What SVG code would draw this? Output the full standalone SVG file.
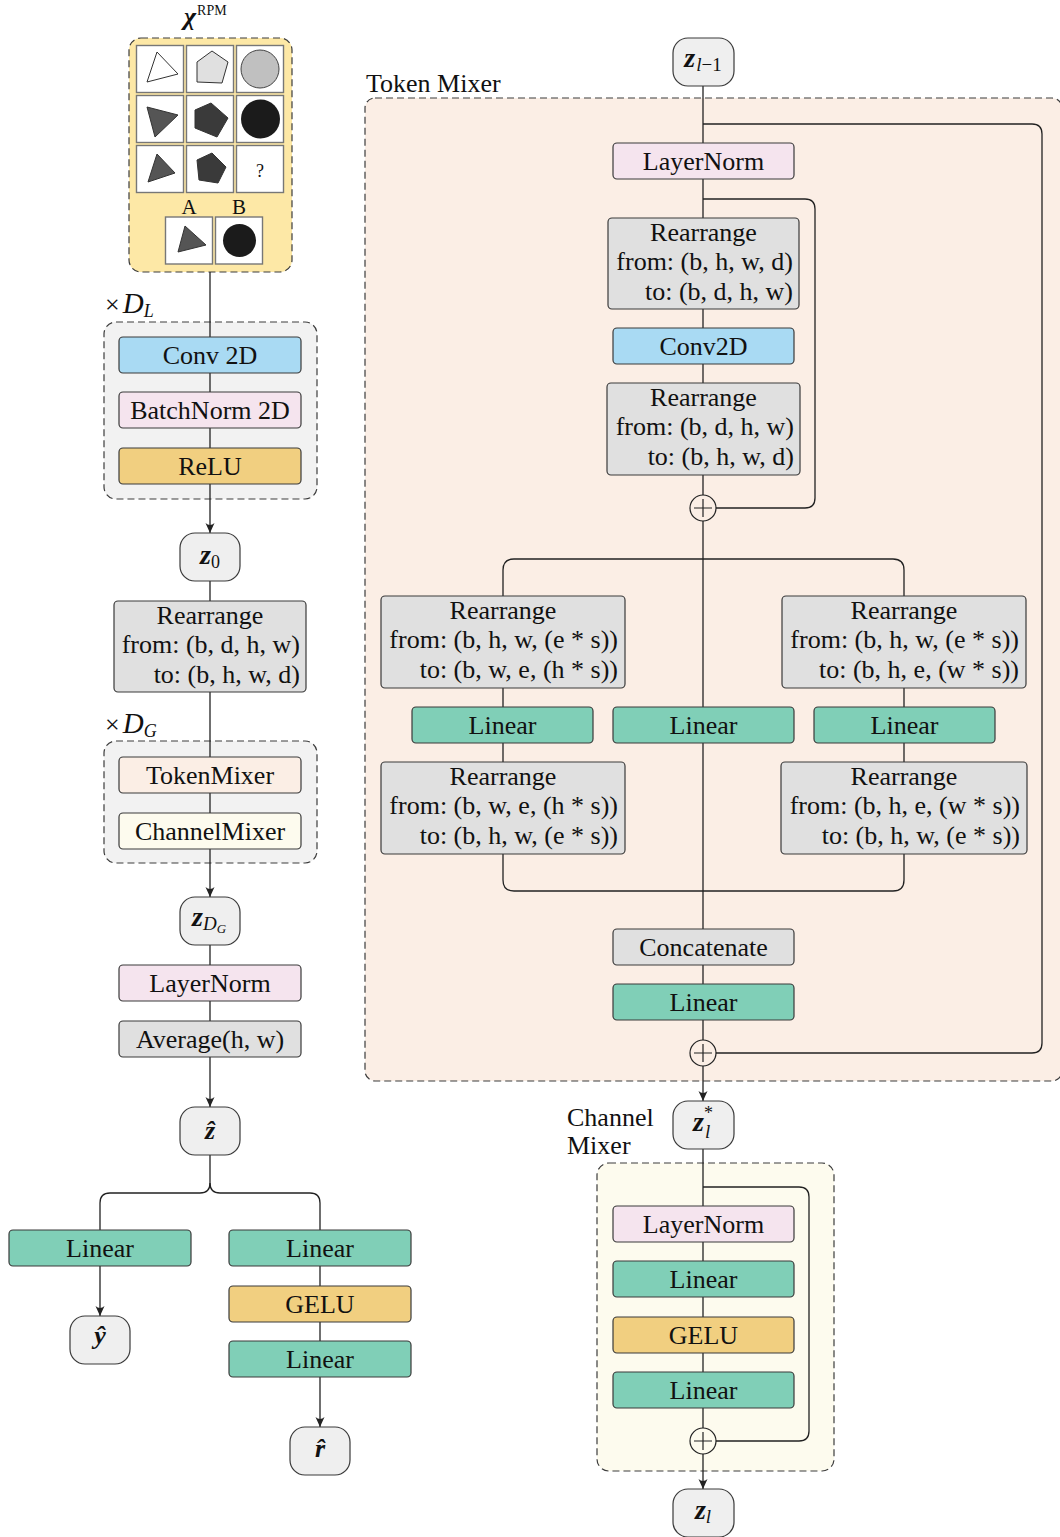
<svg xmlns="http://www.w3.org/2000/svg" width="1060" height="1537" viewBox="0 0 1060 1537">
<defs>
<style>
.lbl{font-family:"Liberation Serif","Times New Roman",serif;font-size:26px;fill:#111}
.c{text-anchor:middle}
.r{text-anchor:end}
.bi{font-weight:bold;font-style:italic}
.it{font-style:italic}
.box{stroke:#3a3a3a;stroke-width:1.2}
.ln{fill:none;stroke:#222;stroke-width:1.3}
.dash{stroke:#3c3c3c;stroke-width:1.2;stroke-dasharray:7 4}
.cell{fill:#fff;stroke:#777;stroke-width:1.4}
.znode{fill:#efefef;stroke:#3a3a3a;stroke-width:1.2}
.lin{fill:#80cfb7}
.gelu{fill:#f1cf80}
.conv{fill:#a9daf3}
.norm{fill:#f5e4ee}
.rea{fill:#e0e0e0}
.tok{fill:#fbeee5}
.chn{fill:#fdfbee}
.plus{fill:none;stroke:#222;stroke-width:1.2}
</style>
<marker id="arr" viewBox="-11 -6 12 12" refX="0" refY="0" markerWidth="12" markerHeight="12" orient="auto" markerUnits="userSpaceOnUse">
<path d="M0,0 L-10,-4.5 Q-6,0 -10,4.5 Z" fill="#222"/>
</marker>
</defs>
<rect width="1060" height="1537" fill="#fff"/>

<!-- containers -->
<g id="containers">
<rect x="129" y="38" width="163" height="234" rx="12" fill="#fde8a6" class="dash"/>
<rect x="104" y="322" width="213" height="177" rx="12" fill="#f2f2f2" class="dash"/>
<rect x="104" y="741" width="213" height="122" rx="12" fill="#f2f2f2" class="dash"/>
<rect x="365" y="98" width="697" height="983" rx="10" class="tok dash"/>
<rect x="597" y="1163" width="237" height="308" rx="12" class="chn dash"/>
</g>
<g id="container-labels">
<text class="lbl" x="105" y="313">×<tspan class="it" font-size="29" dx="3">D</tspan><tspan class="it" font-size="18" dy="4">L</tspan></text>
<text class="lbl" x="105" y="733">×<tspan class="it" font-size="29" dx="3">D</tspan><tspan class="it" font-size="18" dy="4">G</tspan></text>
<text class="lbl" x="366" y="92">Token Mixer</text>
<text class="lbl" x="567" y="1126">Channel</text>
<text class="lbl" x="567" y="1154">Mixer</text>
</g>

<!-- connectors -->
<g id="connectors">
<path class="ln" d="M210,272 V533" marker-end="url(#arr)"/>
<path class="ln" d="M210,581 V601"/>
<path class="ln" d="M210,692 V897" marker-end="url(#arr)"/>
<path class="ln" d="M210,945 V1107" marker-end="url(#arr)"/>
<path class="ln" d="M210,1155 V1183 Q210,1193 200,1193 H110 Q100,1193 100,1203 V1230"/>
<path class="ln" d="M210,1183 Q210,1193 220,1193 H310 Q320,1193 320,1203 V1230"/>
<path class="ln" d="M100,1266 V1316" marker-end="url(#arr)"/>
<path class="ln" d="M320,1266 V1427" marker-end="url(#arr)"/>

<path class="ln" d="M703,86 V1101" marker-end="url(#arr)"/>
<path class="ln" d="M703,124 H1032 Q1042,124 1042,134 V1043 Q1042,1053 1032,1053 H716"/>
<path class="ln" d="M703,199 H805 Q815,199 815,209 V498 Q815,508 805,508 H716"/>
<path class="ln" d="M703,559 H514 Q503,559 503,570 V880 Q503,891 514,891 H893 Q904,891 904,880 V570 Q904,559 893,559 H703"/>
<path class="ln" d="M703,1149 V1489" marker-end="url(#arr)"/>
<path class="ln" d="M703,1187 H799 Q809,1187 809,1197 V1431 Q809,1441 799,1441 H716"/>
</g>

<!-- RPM panel -->
<g id="rpm">
<text class="lbl" x="184" y="25" font-size="32"><tspan class="bi">χ</tspan><tspan font-size="14" dy="-10" dx="1">RPM</tspan></text>
<rect class="cell" x="136.5" y="45.5" width="47" height="47"/>
<rect class="cell" x="186.5" y="45.5" width="47" height="47"/>
<rect class="cell" x="236.5" y="45.5" width="47" height="47"/>
<rect class="cell" x="136.5" y="95.5" width="47" height="47"/>
<rect class="cell" x="186.5" y="95.5" width="47" height="47"/>
<rect class="cell" x="236.5" y="95.5" width="47" height="47"/>
<rect class="cell" x="136.5" y="145.5" width="47" height="47"/>
<rect class="cell" x="186.5" y="145.5" width="47" height="47"/>
<rect class="cell" x="236.5" y="145.5" width="47" height="47"/>
<rect class="cell" x="165.5" y="217" width="47" height="47"/>
<rect class="cell" x="215.5" y="217" width="47" height="47"/>
<polygon points="147,82 157,52 178,74" fill="#fff" stroke="#333" stroke-width="1"/>
<polygon points="197,62 212,51 228,62 222,83 197,82" fill="#e0e0e0" stroke="#333" stroke-width="1"/>
<circle cx="260" cy="69" r="19" fill="#c0c0c0" stroke="#444" stroke-width="1"/>
<polygon points="147,107 155,137 178,115" fill="#555" stroke="#333" stroke-width="1"/>
<polygon points="195,110 211,103 228,118 217,137 195,128" fill="#3a3a3a" stroke="#333" stroke-width="1"/>
<circle cx="260.5" cy="119" r="19.5" fill="#1b1b1b"/>
<polygon points="148,182 157,154 175,173" fill="#555" stroke="#333" stroke-width="1"/>
<polygon points="197,160 212,153 226,167 218,183 199,180" fill="#3a3a3a" stroke="#333" stroke-width="1"/>
<text x="260" y="177" font-family="Liberation Serif, serif" font-size="18" text-anchor="middle" fill="#111">?</text>
<text x="189" y="214" font-family="Liberation Serif, serif" font-size="21" text-anchor="middle" fill="#111">A</text>
<text x="239" y="214" font-family="Liberation Serif, serif" font-size="21" text-anchor="middle" fill="#111">B</text>
<polygon points="178,252 185,226 206,245" fill="#555" stroke="#333" stroke-width="1"/>
<circle cx="239.5" cy="240.5" r="16.5" fill="#1b1b1b"/>
</g>

<!-- left column nodes -->
<g id="conv2d-l"><rect class="box conv" x="119" y="337" width="182" height="36" rx="4"/><text class="lbl c" x="210" y="363.5">Conv 2D</text></g>
<g id="batchnorm"><rect class="box norm" x="119" y="392" width="182" height="36" rx="4"/><text class="lbl c" x="210" y="418.5">BatchNorm 2D</text></g>
<g id="relu"><rect class="box gelu" x="119" y="448" width="182" height="36" rx="4"/><text class="lbl c" x="210" y="474.5">ReLU</text></g>
<g id="z0"><rect class="znode" x="180" y="533" width="60" height="48" rx="15"/><text class="lbl c" x="210" y="564"><tspan class="bi" font-size="28">z</tspan><tspan font-size="18" dy="4">0</tspan></text></g>
<g id="rearrange-l"><rect class="box rea" x="114" y="601" width="192" height="91" rx="4"/>
<text class="lbl c" x="210" y="624">Rearrange</text>
<text class="lbl r" x="300" y="653">from: (b, d, h, w)</text>
<text class="lbl r" x="300" y="682.5">to: (b, h, w, d)</text></g>
<g id="tokenmixer-l"><rect class="box tok" x="119" y="757" width="182" height="36" rx="4"/><text class="lbl c" x="210" y="783.5">TokenMixer</text></g>
<g id="channelmixer-l"><rect class="box chn" x="119" y="813" width="182" height="36" rx="4"/><text class="lbl c" x="210" y="839.5">ChannelMixer</text></g>
<g id="zDG"><rect class="znode" x="180" y="897" width="60" height="48" rx="15"/><text class="lbl c" x="209" y="926"><tspan class="bi" font-size="28">z</tspan><tspan class="it" font-size="19" dy="4">D</tspan><tspan class="it" font-size="13" dy="3">G</tspan></text></g>
<g id="layernorm-l"><rect class="box norm" x="119" y="965" width="182" height="36" rx="4"/><text class="lbl c" x="210" y="991.5">LayerNorm</text></g>
<g id="average"><rect class="box rea" x="119" y="1021" width="182" height="36" rx="4"/><text class="lbl c" x="210" y="1047.5">Average(h, w)</text></g>
<g id="zhat"><rect class="znode" x="180" y="1107" width="60" height="48" rx="15"/><text class="lbl c bi" x="210" y="1139" font-size="28">ẑ</text></g>
<g id="linear-y"><rect class="box lin" x="9" y="1230" width="182" height="36" rx="4"/><text class="lbl c" x="100" y="1256.5">Linear</text></g>
<g id="yhat"><rect class="znode" x="70" y="1316" width="60" height="48" rx="15"/><text class="lbl c bi" x="100" y="1344" font-size="28">ŷ</text></g>
<g id="linear-r1"><rect class="box lin" x="229" y="1230" width="182" height="36" rx="4"/><text class="lbl c" x="320" y="1256.5">Linear</text></g>
<g id="gelu-r"><rect class="box gelu" x="229" y="1286" width="182" height="36" rx="4"/><text class="lbl c" x="320" y="1312.5">GELU</text></g>
<g id="linear-r2"><rect class="box lin" x="229" y="1341" width="182" height="36" rx="4"/><text class="lbl c" x="320" y="1367.5">Linear</text></g>
<g id="rhat"><rect class="znode" x="290" y="1427" width="60" height="48" rx="15"/><text class="lbl c bi" x="320" y="1457" font-size="28">r̂</text></g>

<!-- right column nodes -->
<g id="zl-1"><rect class="znode" x="673" y="38" width="61" height="48" rx="15"/><text class="lbl c" x="703" y="67"><tspan class="bi" font-size="28">z</tspan><tspan class="it" font-size="19" dy="4" dx="1">l</tspan><tspan font-size="19">−1</tspan></text></g>
<g id="layernorm-t"><rect class="box norm" x="613" y="143" width="181" height="36" rx="4"/><text class="lbl c" x="703.5" y="169.5">LayerNorm</text></g>
<g id="rearrange-t1"><rect class="box rea" x="608" y="218" width="191" height="91" rx="4"/>
<text class="lbl c" x="703.5" y="241">Rearrange</text>
<text class="lbl r" x="793" y="270">from: (b, h, w, d)</text>
<text class="lbl r" x="793" y="299.5">to: (b, d, h, w)</text></g>
<g id="conv2d-t"><rect class="box conv" x="613" y="328" width="181" height="36" rx="4"/><text class="lbl c" x="703.5" y="354.5">Conv2D</text></g>
<g id="rearrange-t2"><rect class="box rea" x="607" y="383" width="193" height="92" rx="4"/>
<text class="lbl c" x="703.5" y="406">Rearrange</text>
<text class="lbl r" x="794" y="435">from: (b, d, h, w)</text>
<text class="lbl r" x="794" y="464.5">to: (b, h, w, d)</text></g>
<g id="plus1"><circle class="plus" cx="703" cy="508" r="13" style="fill:#fbeee5"/><path class="plus" d="M694,508 H712 M703,499 V517"/></g>
<g id="rearrange-a"><rect class="box rea" x="381" y="596" width="244" height="92" rx="4"/>
<text class="lbl c" x="503" y="619">Rearrange</text>
<text class="lbl r" x="618" y="648">from: (b, h, w, (e * s))</text>
<text class="lbl r" x="618" y="677.5">to: (b, w, e, (h * s))</text></g>
<g id="rearrange-c"><rect class="box rea" x="782" y="596" width="244" height="92" rx="4"/>
<text class="lbl c" x="904" y="619">Rearrange</text>
<text class="lbl r" x="1019" y="648">from: (b, h, w, (e * s))</text>
<text class="lbl r" x="1019" y="677.5">to: (b, h, e, (w * s))</text></g>
<g id="linear-a"><rect class="box lin" x="412" y="707" width="181" height="36" rx="4"/><text class="lbl c" x="502.5" y="733.5">Linear</text></g>
<g id="linear-b"><rect class="box lin" x="613" y="707" width="181" height="36" rx="4"/><text class="lbl c" x="703.5" y="733.5">Linear</text></g>
<g id="linear-c"><rect class="box lin" x="814" y="707" width="181" height="36" rx="4"/><text class="lbl c" x="904.5" y="733.5">Linear</text></g>
<g id="rearrange-b"><rect class="box rea" x="381" y="762" width="244" height="92" rx="4"/>
<text class="lbl c" x="503" y="785">Rearrange</text>
<text class="lbl r" x="618" y="814">from: (b, w, e, (h * s))</text>
<text class="lbl r" x="618" y="843.5">to: (b, h, w, (e * s))</text></g>
<g id="rearrange-d"><rect class="box rea" x="781" y="762" width="246" height="92" rx="4"/>
<text class="lbl c" x="904" y="785">Rearrange</text>
<text class="lbl r" x="1020" y="814">from: (b, h, e, (w * s))</text>
<text class="lbl r" x="1020" y="843.5">to: (b, h, w, (e * s))</text></g>
<g id="concatenate"><rect class="box rea" x="613" y="929" width="181" height="36" rx="4"/><text class="lbl c" x="703.5" y="955.5">Concatenate</text></g>
<g id="linear-t"><rect class="box lin" x="613" y="984" width="181" height="36" rx="4"/><text class="lbl c" x="703.5" y="1010.5">Linear</text></g>
<g id="plus2"><circle class="plus" cx="703" cy="1053" r="13" style="fill:#fbeee5"/><path class="plus" d="M694,1053 H712 M703,1044 V1062"/></g>
<g id="zl-star"><rect class="znode" x="673" y="1101" width="61" height="48" rx="15"/><text class="lbl c" x="703" y="1131"><tspan class="bi" font-size="28">z</tspan><tspan font-size="18" dy="-12">*</tspan><tspan class="it" font-size="19" dx="-8" dy="19">l</tspan></text></g>
<g id="layernorm-c"><rect class="box norm" x="613" y="1206" width="181" height="36" rx="4"/><text class="lbl c" x="703.5" y="1232.5">LayerNorm</text></g>
<g id="linear-c1"><rect class="box lin" x="613" y="1261" width="181" height="36" rx="4"/><text class="lbl c" x="703.5" y="1287.5">Linear</text></g>
<g id="gelu-c"><rect class="box gelu" x="613" y="1317" width="181" height="36" rx="4"/><text class="lbl c" x="703.5" y="1343.5">GELU</text></g>
<g id="linear-c2"><rect class="box lin" x="613" y="1372" width="181" height="36" rx="4"/><text class="lbl c" x="703.5" y="1398.5">Linear</text></g>
<g id="plus3"><circle class="plus" cx="703" cy="1441" r="13" style="fill:#fdfbee"/><path class="plus" d="M694,1441 H712 M703,1432 V1450"/></g>
<g id="zl"><rect class="znode" x="673" y="1489" width="61" height="48" rx="15"/><text class="lbl c" x="703" y="1519"><tspan class="bi" font-size="28">z</tspan><tspan class="it" font-size="19" dy="4">l</tspan></text></g>
</svg>
